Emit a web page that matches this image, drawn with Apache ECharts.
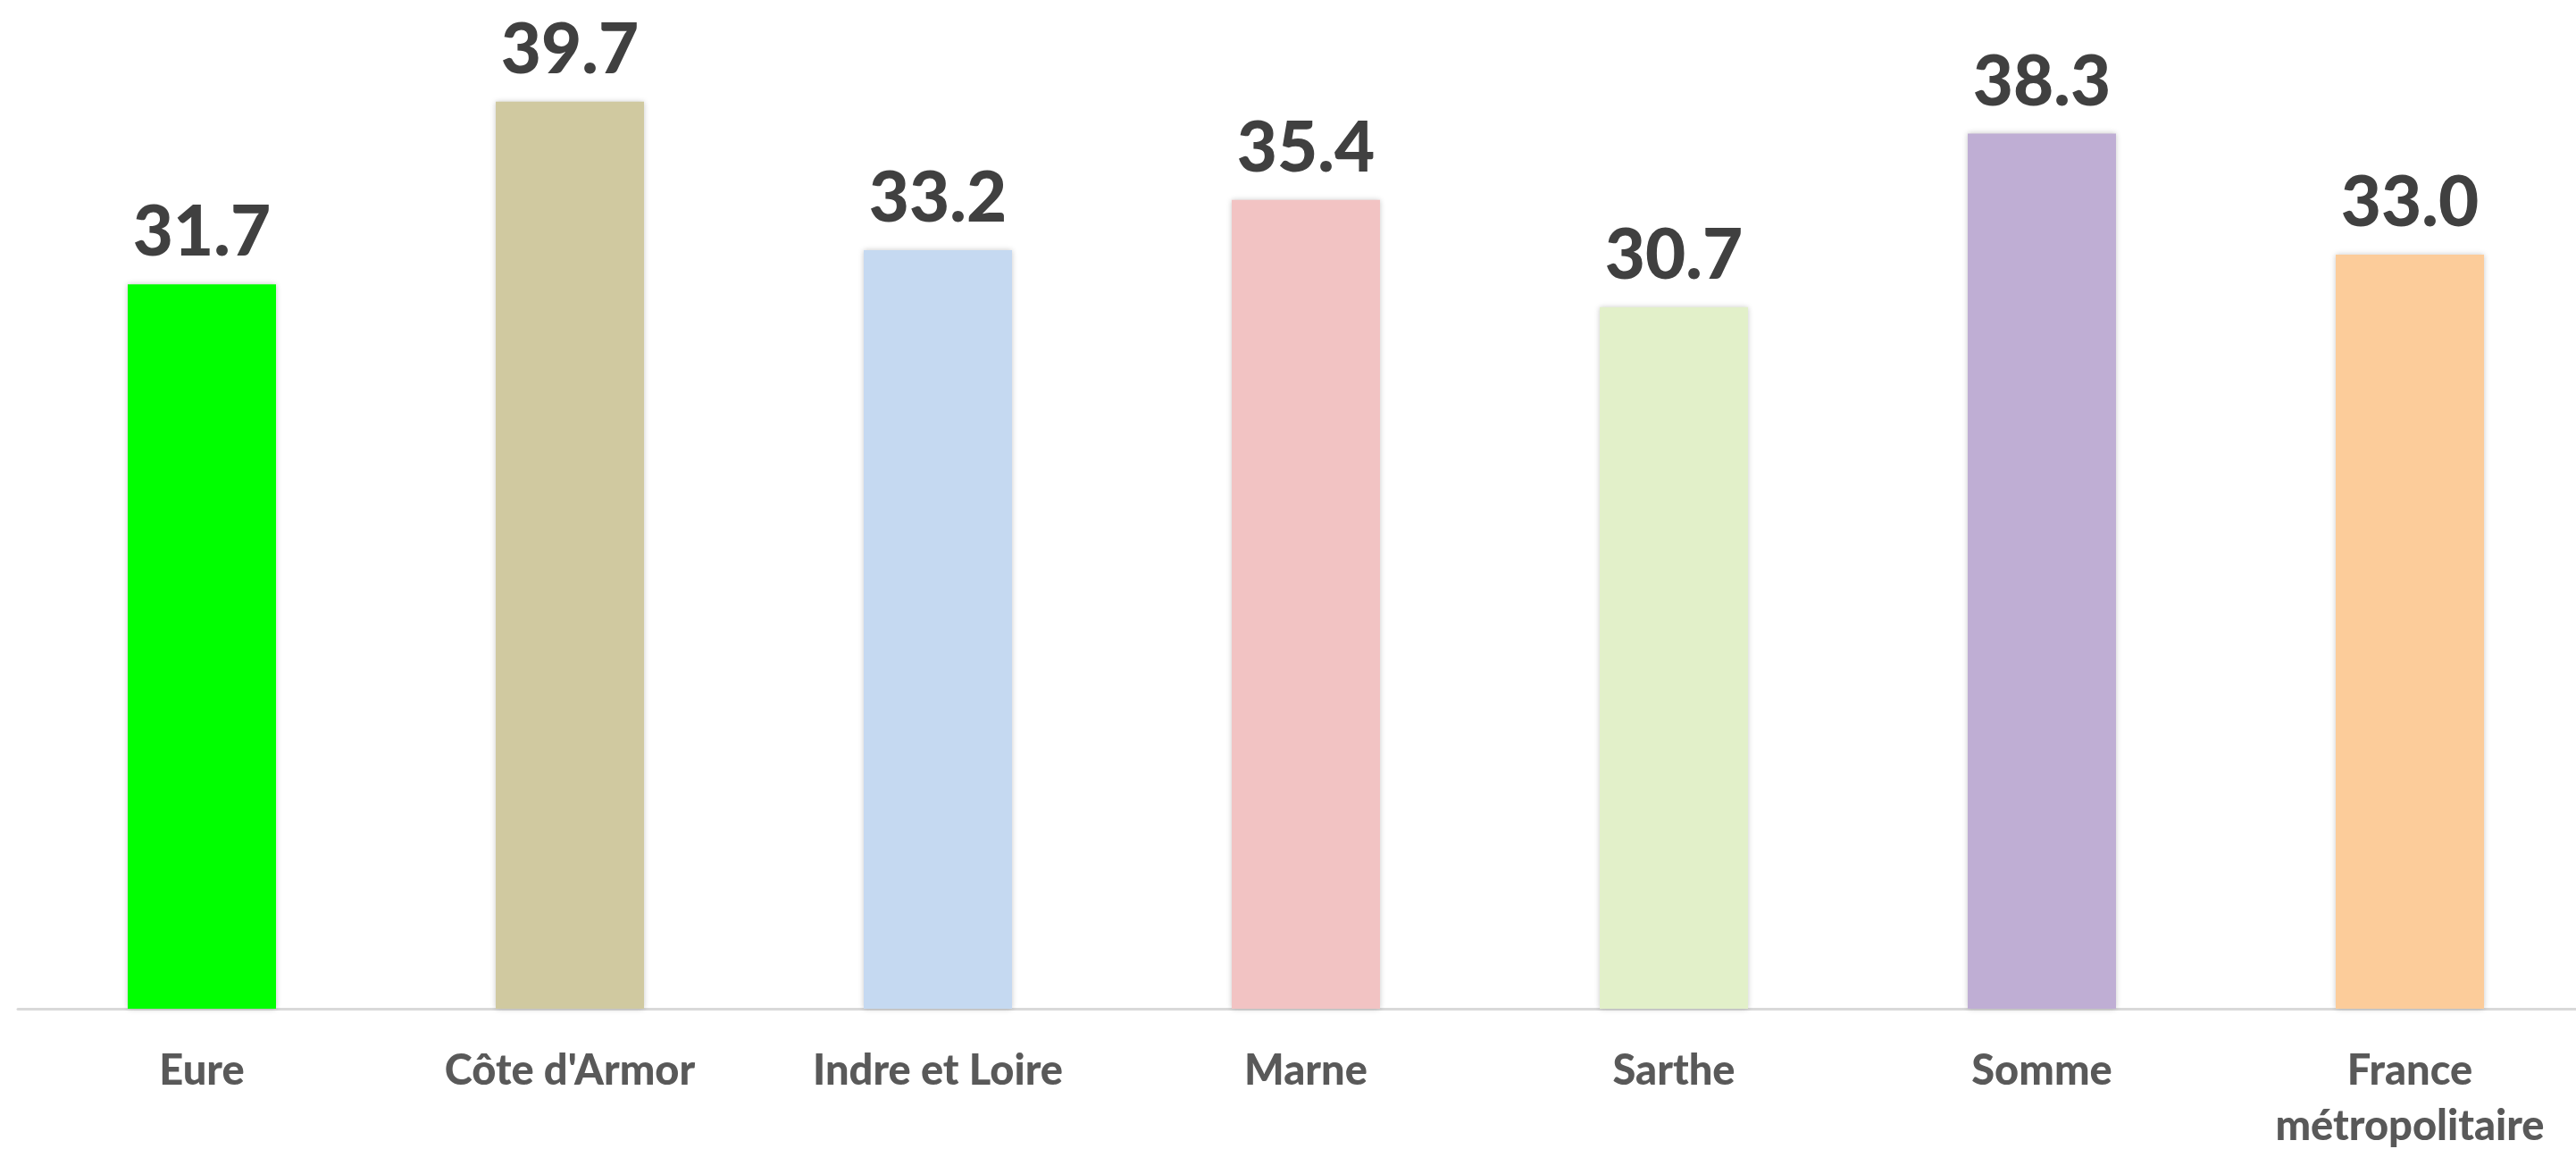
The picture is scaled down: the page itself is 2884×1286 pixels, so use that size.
<!DOCTYPE html>
<html>
<head>
<meta charset="utf-8">
<script src="https://cdn.jsdelivr.net/npm/echarts@6/dist/echarts.min.js"></script>
<style>
  html, body { margin: 0; padding: 0; background: #fff; }
  #chart { width: 2884px; height: 1286px; }
</style>
</head>
<body>
<div id="chart"></div>
<script>
const categories = ['Eure', "Côte d'Armor", 'Indre et Loire', 'Marne', 'Sarthe', 'Somme', 'France\nmétropolitaire']
const values = [31.7, 39.7, 33.2, 35.4, 30.7, 38.3, 33.0]
const barColors = ['#00FF00', '#D0C9A0', '#C5D9F1', '#F2C3C3', '#E2F0C9', '#BFAED4', '#FCCC9A']

const chart = echarts.init(document.getElementById('chart'))
chart.setOption({
  animation: false,
  grid: {
    left: 20,
    width: 2884,
    top: 106,
    bottom: 157,
    containLabel: false,
    outerBoundsMode: 'none'
  },
  xAxis: {
    type: 'category',
    data: categories,
    axisLine: { lineStyle: { color: '#D9D9D9', width: 3 } },
    axisTick: { show: false },
    axisLabel: {
      color: '#595959',
      fontFamily: 'Lato',
      fontWeight: 900,
      fontSize: 47,
      lineHeight: 62,
      margin: 39,
      interval: 0
    }
  },
  yAxis: {
    type: 'value',
    min: 0,
    max: 40,
    show: false,
    splitLine: { show: false }
  },
  series: [
    {
      type: 'bar',
      barWidth: 166,
      data: values.map((v, i) => ({
        value: v,
        itemStyle: { color: barColors[i] }
      })),
      itemStyle: {
        shadowBlur: 6,
        shadowColor: 'rgba(0,0,0,0.22)'
      },
      label: {
        show: true,
        position: 'top',
        distance: 18,
        color: '#404040',
        fontFamily: 'Lato',
        fontWeight: 900,
        fontSize: 78,
        formatter: p => p.value.toFixed(1)
      }
    }
  ]
})
</script>
</body>
</html>
